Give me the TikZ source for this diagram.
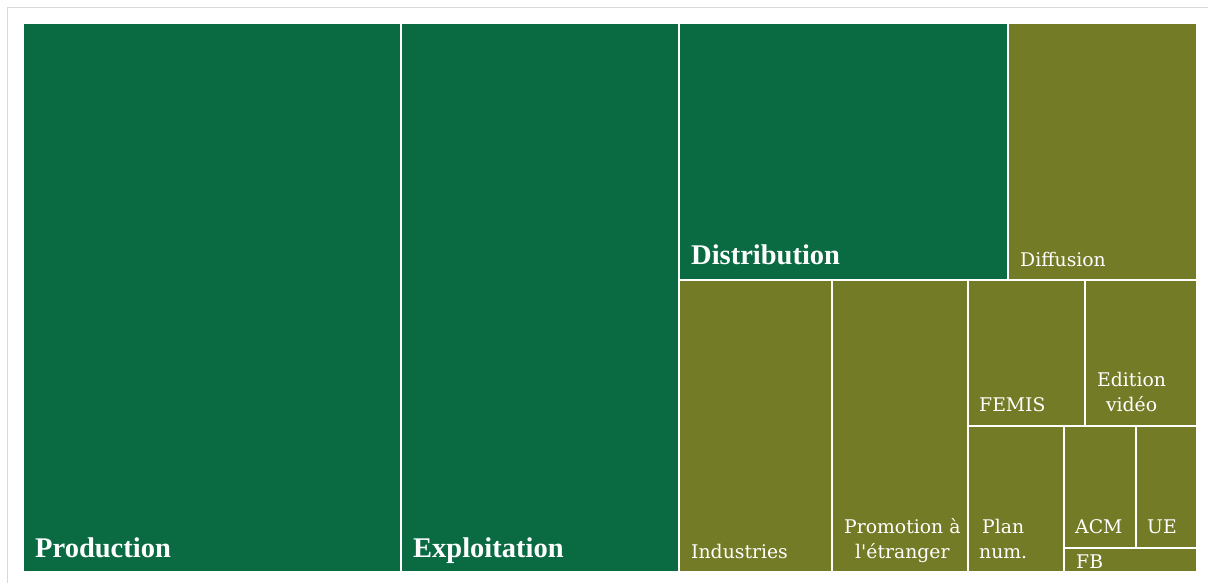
\documentclass[tikz,border=0pt]{standalone}
\usepackage{fontspec}
\setmainfont{DejaVu Serif}
\newfontfamily\boldfont{Liberation Serif}
\definecolor{dgreen}{HTML}{0A6B43}
\definecolor{olive}{HTML}{747B27}
\definecolor{framegray}{HTML}{D9D9D9}
\begin{document}
\begin{tikzpicture}[x=1pt,y=-1pt,
  cell/.style={draw=white,line width=1.5pt},
  lab/.style={anchor=base west,inner sep=0pt,text=white,font=\fontsize{18.8}{25}\selectfont},
  mlab/.style={lab,align=center},
  biglab/.style={anchor=base west,inner sep=0pt,text=white,font=\boldfont\bfseries\fontsize{28.5}{32}\selectfont}]
\useasboundingbox (0,0) rectangle (1208,583);
\fill[white] (0,0) rectangle (1208,583);
\draw[framegray,line width=1.3pt] (1212,7.5) -- (7.5,7.5) -- (7.5,587);
% cells
\path[cell,fill=dgreen] (23,23) rectangle (401,572);
\path[cell,fill=dgreen] (401,23) rectangle (679,572);
\path[cell,fill=dgreen] (679,23) rectangle (1008,280);
\path[cell,fill=olive] (1008,23) rectangle (1197,280);
\path[cell,fill=olive] (679,280) rectangle (832,572);
\path[cell,fill=olive] (832,280) rectangle (968,572);
\path[cell,fill=olive] (968,280) rectangle (1085,426);
\path[cell,fill=olive] (1085,280) rectangle (1197,426);
\path[cell,fill=olive] (968,426) rectangle (1064,572);
\path[cell,fill=olive] (1064,426) rectangle (1136,548);
\path[cell,fill=olive] (1136,426) rectangle (1197,548);
\path[cell,fill=olive] (1064,548) rectangle (1197,572);
% labels
\node[biglab] (production) at (35,557) {Production};
\node[biglab] (exploitation) at (413,557) {Exploitation};
\node[biglab] (distribution) at (691,264) {Distribution};
\node[lab] (diffusion) at (1020,266) {Diffusion};
\node[lab] (industries) at (691,558) {Industries};
\node[mlab] (promotion) at (844,558) {Promotion à\\l\textquotesingle étranger};
\node[lab] (femis) at (979,411) {FEMIS};
\node[mlab] (edition) at (1097,411) {Edition\\vidéo};
\node[mlab] (plan) at (979,558) {Plan\\num.};
\node[lab] (acm) at (1075,533) {ACM};
\node[lab] (ue) at (1147,533) {UE};
\node[lab] (fb) at (1076,568) {FB};
\end{tikzpicture}
\end{document}
